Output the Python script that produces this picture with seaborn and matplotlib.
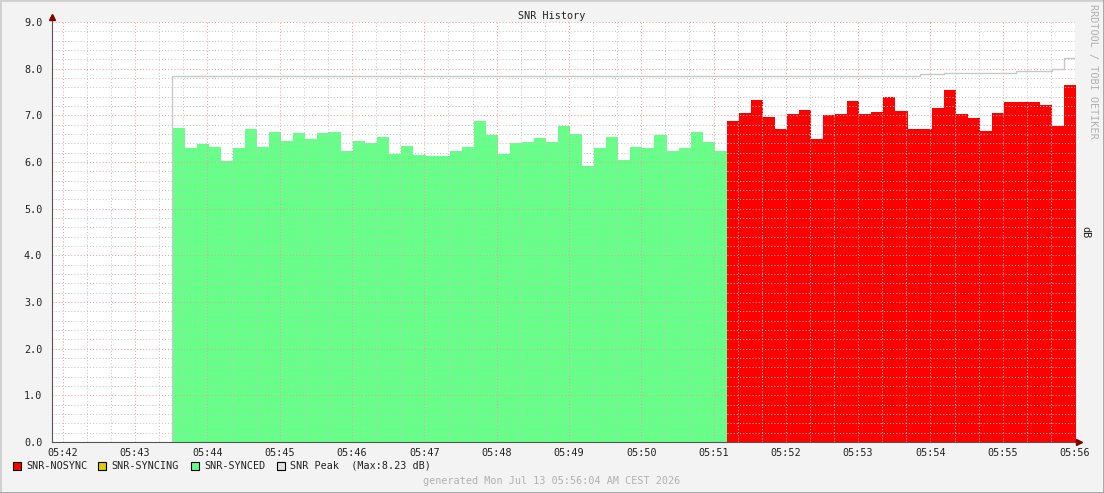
"""SNR history chart in the style of an RRDtool graph."""

import matplotlib
matplotlib.use("Agg")
import matplotlib.pyplot as plt
import matplotlib.dates as mdates
from matplotlib.patches import Rectangle
from matplotlib.lines import Line2D
from matplotlib.ticker import MultipleLocator
import seaborn as sns
import pandas as pd

# samples every 10 s
start_time = "2026-07-13 05:43:31"
synced = [6.73, 6.30, 6.39, 6.32, 6.02, 6.30, 6.71, 6.32, 6.64, 6.45,
          6.62, 6.49, 6.62, 6.64, 6.24, 6.45, 6.41, 6.54, 6.17, 6.34,
          6.15, 6.13, 6.13, 6.24, 6.32, 6.88, 6.58, 6.17, 6.41, 6.43,
          6.51, 6.43, 6.77, 6.60, 5.91, 6.30, 6.54, 6.04, 6.32, 6.30,
          6.58, 6.24, 6.30, 6.64, 6.43, 6.24]
nosync = [6.88, 7.05, 7.33, 6.96, 6.71, 7.03, 7.11, 6.49, 7.01, 7.03,
          7.31, 7.03, 7.07, 7.39, 7.09, 6.71, 6.71, 7.16, 7.54, 7.03,
          6.94, 6.66, 7.05, 7.29, 7.29, 7.29, 7.22, 6.77, 7.65]
peak = [7.85] * 62 + [7.88] * 2 + [7.91] * 6 + [7.95] * 3 + [7.99] + [8.22]
peak_max = 8.23

legend_items = [("SNR-NOSYNC", "#FF0000"), ("SNR-SYNCING", "#DDCC00"),
                ("SNR-SYNCED", "#66FF88"), ("SNR Peak", "#E0E0E0")]

sns.set_style("white")
plt.rcParams["font.family"] = ["DejaVu Sans Mono", "DejaVu Sans"]
FS = 7.3

n = len(synced) + len(nosync)
times = pd.date_range(start_time, periods=n + 1, freq="10s").to_pydatetime()

fig = plt.figure(figsize=(11.04, 4.93), dpi=100)
fig.patch.set_facecolor("#F3F3F3")
ax = fig.add_axes([52 / 1104, 1 - 442 / 493, 1023 / 1104, 420 / 493])
ax.set_facecolor("white")

ns = len(synced)
ax.fill_between(times[:ns + 1], synced + [synced[-1]], step="post",
                color="#66FF88", lw=0, zorder=2)
ax.fill_between(times[ns:n + 1], nosync + [nosync[-1]], step="post",
                color="#FF0000", lw=0, zorder=2)

peak_df = pd.DataFrame({"t": [times[0]] + list(times[:n]) + [times[n]],
                        "v": [0.0] + peak + [peak[-1]]})
sns.lineplot(data=peak_df, x="t", y="v", ax=ax, estimator=None, sort=False,
             drawstyle="steps-post", color="#C8C8C8", lw=1, zorder=3)

ax.set_xlim(pd.Timestamp("2026-07-13 05:41:51"), pd.Timestamp("2026-07-13 05:56:00"))
ax.set_ylim(0, 9)
ax.xaxis.set_major_locator(mdates.MinuteLocator())
ax.xaxis.set_minor_locator(mdates.SecondLocator(bysecond=[20, 40]))
ax.xaxis.set_major_formatter(mdates.DateFormatter("%H:%M"))
ax.yaxis.set_major_locator(MultipleLocator(1.0))
ax.yaxis.set_minor_locator(MultipleLocator(0.2))
ax.yaxis.set_major_formatter(lambda v, p: f"{v:.1f}")

ax.grid(which="minor", color="#C8C8C8", ls=(0, (1, 2)), lw=0.75, zorder=4)
ax.grid(which="major", color="#EBA0A0", ls=(0, (1, 2)), lw=0.75, zorder=4)
ax.set_axisbelow(False)
ax.set_xlabel("")
ax.set_ylabel("")

for s in ["top", "right"]:
    ax.spines[s].set_visible(False)
for s in ["left", "bottom"]:
    ax.spines[s].set_color("#555555")
    ax.spines[s].set_linewidth(0.8)
    ax.spines[s].set_zorder(5)
ax.tick_params(which="both", direction="inout", color="#555555", width=0.8,
               labelsize=FS, labelcolor="#222222")
ax.tick_params(which="major", length=4)
ax.tick_params(which="minor", length=2)
ax.tick_params(axis="y", pad=5)
ax.tick_params(axis="x", pad=2)

# axis arrows
ax.add_line(Line2D([0, 0], [1, 1 + 4 / 420], transform=ax.transAxes,
                   color="#555555", lw=0.8, clip_on=False))
ax.add_line(Line2D([1, 1 + 3 / 1023], [0, 0], transform=ax.transAxes,
                   color="#555555", lw=0.8, clip_on=False))
ax.plot([0], [1 + 5 / 420], marker="^", ms=4, color="#800000",
        transform=ax.transAxes, clip_on=False)
ax.plot([1 + 4 / 1023], [0], marker=">", ms=4, color="#800000",
        transform=ax.transAxes, clip_on=False)

fig.text(0.5, 1 - 16 / 493, "SNR History", ha="center", va="center",
         fontsize=FS, color="#222222")
fig.text(1093 / 1104, 1 - 4 / 493, "RRDTOOL / TOBI OETIKER", rotation=270,
         ha="center", va="top", fontsize=FS, color="#B0B0B0")
fig.text(1085 / 1104, 1 - 232 / 493, "dB", rotation=270, ha="center",
         va="center", fontsize=FS, color="#222222")

# legend row
sq_x = [13, 98, 191, 277]
for (label, col), x0 in zip(legend_items, sq_x):
    fig.patches.append(Rectangle((x0 / 1104, 1 - 470 / 493), 8 / 1104, 8 / 493,
                                 transform=fig.transFigure, facecolor=col,
                                 edgecolor="black", lw=0.8))
    txt = label
    if label == "SNR Peak":
        txt = f"{label}  (Max:{peak_max:.2f} dB)"
    fig.text((x0 + 13) / 1104, 1 - 466 / 493, txt, ha="left", va="center",
             fontsize=FS, color="#222222")
fig.text(552 / 1104, 1 - 481 / 493, "generated Mon Jul 13 05:56:04 AM CEST 2026",
         ha="center", va="center", fontsize=FS, color="#B0B0B0")

# outer frame
fig.add_artist(Line2D([0, 1], [1, 1], transform=fig.transFigure, color="#D0D0D0", lw=2))
fig.add_artist(Line2D([0, 0], [0, 1], transform=fig.transFigure, color="#D0D0D0", lw=2))
fig.add_artist(Line2D([0, 1], [0, 0], transform=fig.transFigure, color="#A0A0A0", lw=2))
fig.add_artist(Line2D([1, 1], [0, 1], transform=fig.transFigure, color="#A0A0A0", lw=2))

fig.savefig("out.png", dpi=100, facecolor=fig.get_facecolor())
